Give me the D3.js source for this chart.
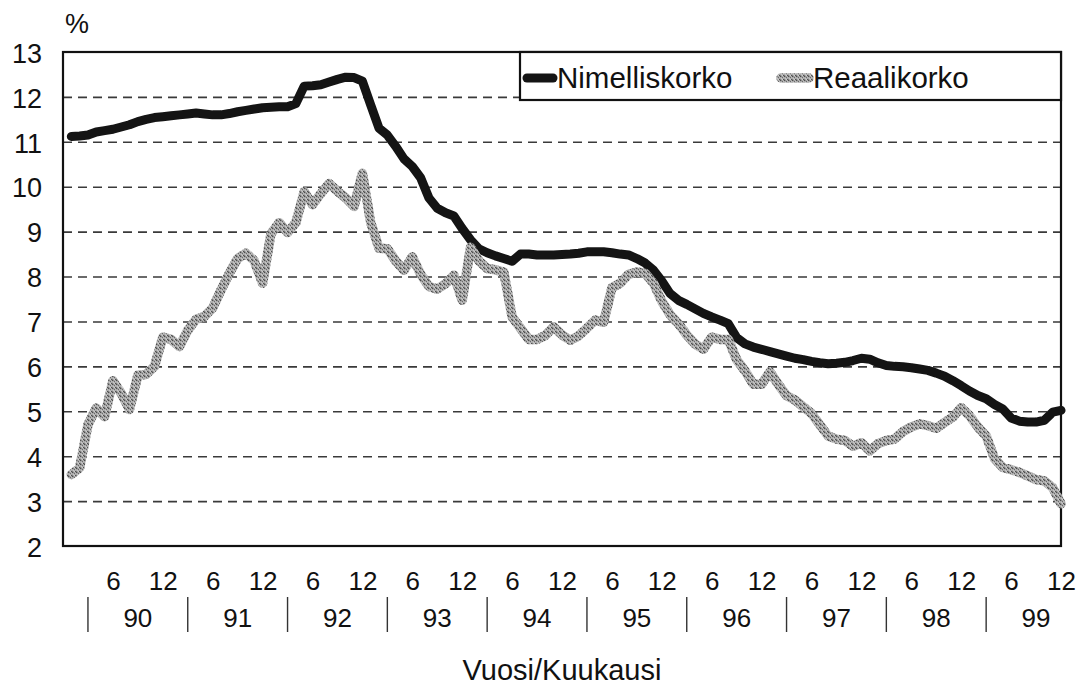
<!DOCTYPE html>
<html>
<head>
<meta charset="utf-8">
<script src="https://cdn.jsdelivr.net/npm/d3@7"></script>
<style>
  html, body { margin: 0; padding: 0; background: #fff; }
  svg { display: block; }
  text { font-family: "Liberation Sans", Arial, Helvetica, sans-serif; fill: #111; }
</style>
</head>
<body>
<svg id="chart" width="1082" height="687"></svg>
<script>
// ---- data (monthly, Jan 1990 .. Dec 1999) ----
const seriesNames = ["Nimelliskorko", "Reaalikorko"];

const nimelliskorko = [
  // 1990
  11.12, 11.13, 11.15, 11.22, 11.25, 11.28, 11.33, 11.38, 11.45, 11.50, 11.54, 11.56,
  // 1991
  11.58, 11.60, 11.62, 11.64, 11.62, 11.60, 11.60, 11.63, 11.67, 11.70, 11.73, 11.76,
  // 1992
  11.77, 11.78, 11.78, 11.85, 12.24, 12.25, 12.27, 12.33, 12.39, 12.44, 12.43, 12.35,
  // 1993
  11.82, 11.30, 11.15, 10.90, 10.62, 10.45, 10.20, 9.75, 9.52, 9.42, 9.35, 9.07,
  // 1994
  8.82, 8.62, 8.53, 8.46, 8.40, 8.34, 8.50, 8.50, 8.48, 8.48, 8.48, 8.49,
  // 1995
  8.50, 8.52, 8.55, 8.55, 8.55, 8.53, 8.50, 8.48, 8.40, 8.30, 8.14, 7.90,
  // 1996
  7.62, 7.47, 7.38, 7.28, 7.18, 7.10, 7.03, 6.95, 6.64, 6.50, 6.43, 6.38,
  // 1997
  6.33, 6.28, 6.23, 6.18, 6.15, 6.11, 6.08, 6.06, 6.07, 6.09, 6.13, 6.18,
  // 1998
  6.16, 6.08, 6.02, 6.00, 5.99, 5.97, 5.94, 5.91, 5.85, 5.78, 5.68, 5.57,
  // 1999
  5.45, 5.35, 5.28, 5.15, 5.05, 4.85, 4.78, 4.76, 4.76, 4.80, 4.98, 5.02
];

const reaalikorko = [
  // 1990
  3.59, 3.74, 4.70, 5.07, 4.88, 5.68, 5.40, 5.04, 5.80, 5.82, 6.00, 6.65,
  // 1991
  6.60, 6.44, 6.80, 7.05, 7.11, 7.30, 7.70, 8.07, 8.40, 8.52, 8.35, 7.85,
  // 1992
  8.95, 9.20, 8.98, 9.20, 9.89, 9.60, 9.85, 10.07, 9.90, 9.75, 9.56, 10.30,
  // 1993
  9.20, 8.63, 8.62, 8.35, 8.14, 8.44, 8.05, 7.78, 7.72, 7.84, 8.03, 7.47,
  // 1994
  8.65, 8.35, 8.18, 8.15, 8.10, 7.10, 6.85, 6.60, 6.60, 6.69, 6.88, 6.70,
  // 1995
  6.58, 6.68, 6.85, 7.03, 6.98, 7.75, 7.85, 8.05, 8.10, 8.07, 7.85, 7.45,
  // 1996
  7.15, 6.95, 6.70, 6.50, 6.38, 6.65, 6.60, 6.60, 6.15, 5.90, 5.60, 5.60,
  // 1997
  5.88, 5.60, 5.35, 5.25, 5.10, 4.95, 4.70, 4.45, 4.38, 4.35, 4.22, 4.30,
  // 1998
  4.12, 4.28, 4.35, 4.38, 4.55, 4.65, 4.72, 4.68, 4.62, 4.75, 4.87, 5.08,
  // 1999
  4.90, 4.65, 4.45, 3.95, 3.75, 3.70, 3.64, 3.56, 3.48, 3.45, 3.30, 2.94
];

const yTicks = [2, 3, 4, 5, 6, 7, 8, 9, 10, 11, 12, 13];
const monthTickLabels = ["6", "12"];
const monthTickOffsets = [5, 11];          // June, December within a year
const yearLabels = ["90", "91", "92", "93", "94", "95", "96", "97", "98", "99"];
const yUnitLabel = "%";
const xTitle = "Vuosi/Kuukausi";

// ---- layout ----
const plot = { left: 63, right: 1061, top: 52, bottom: 546 };
const nMonths = nimelliskorko.length;
const FONT = '"Liberation Sans", Arial, Helvetica, sans-serif';

const svg = d3.select("#chart");

const x = d3.scaleLinear().domain([-1, nMonths - 1]).range([plot.left, plot.right]);
const y = d3.scaleLinear().domain([2, 13]).range([plot.bottom, plot.top]);

// pattern for the speckled grey line
const defs = svg.append("defs");
const pat = defs.append("pattern")
  .attr("id", "speckle").attr("patternUnits", "userSpaceOnUse")
  .attr("width", 4).attr("height", 4);
pat.append("rect").attr("width", 4).attr("height", 4).attr("fill", "#a9a9a9");
[[0,0,"#4e4e4e"],[2,1,"#6a6a6a"],[1,2,"#c6c6c6"],[3,3,"#505050"],[3,1,"#bdbdbd"],[0,3,"#7c7c7c"],[2,3,"#cfcfcf"],[1,0,"#8a8a8a"]]
  .forEach(([px,py,c]) => pat.append("rect").attr("x",px).attr("y",py).attr("width",1).attr("height",1).attr("fill",c));

// ---- grid lines (dashed) ----
const grid = svg.append("g")
  .attr("transform", `translate(${plot.left},0)`)
  .call(d3.axisLeft(y).tickValues(yTicks.filter(v => v > 2 && v < 13))
        .tickSize(-(plot.right - plot.left)).tickFormat(""));
grid.select(".domain").remove();
grid.selectAll(".tick line")
  .attr("stroke", "#3a3a3a").attr("stroke-width", 1.6).attr("stroke-dasharray", "9,6");

// ---- y axis labels ----
const yAxis = svg.append("g")
  .attr("transform", `translate(${plot.left},0)`)
  .call(d3.axisLeft(y).tickValues(yTicks).tickSize(0).tickPadding(21).tickFormat(d3.format("d")));
yAxis.select(".domain").remove();
yAxis.selectAll(".tick text")
  .attr("font-size", 27).attr("dy", "0.38em")
  .style("font-family", FONT).attr("fill", "#111");

// ---- plot border ----
svg.append("rect")
  .attr("x", plot.left).attr("y", plot.top)
  .attr("width", plot.right - plot.left).attr("height", plot.bottom - plot.top)
  .attr("fill", "none").attr("stroke", "#111").attr("stroke-width", 2.2);

// ---- lines ----
const line = d3.line().x((d, i) => x(i)).y(d => y(d));

svg.append("path").datum(nimelliskorko)
  .attr("d", line).attr("fill", "none")
  .attr("stroke", "#141414").attr("stroke-width", 9)
  .attr("stroke-linejoin", "round").attr("stroke-linecap", "round");

svg.append("path").datum(reaalikorko)
  .attr("d", line).attr("fill", "none")
  .attr("stroke", "url(#speckle)").attr("stroke-width", 9.5)
  .attr("stroke-linejoin", "round").attr("stroke-linecap", "round");

// ---- x axis: month labels ----
const monthTicks = [];
yearLabels.forEach((yl, k) => monthTickOffsets.forEach((m, j) => monthTicks.push({ i: k * 12 + m, label: monthTickLabels[j] })));
const xAxis = svg.append("g")
  .attr("transform", `translate(0,${plot.bottom})`)
  .call(d3.axisBottom(x).tickValues(monthTicks.map(d => d.i)).tickSize(0).tickPadding(26)
        .tickFormat((d) => monthTicks.find(t => t.i === d).label));
xAxis.select(".domain").remove();
xAxis.selectAll(".tick text")
  .attr("font-size", 26).attr("dy", "0.71em")
  .style("font-family", FONT).attr("fill", "#111");

// ---- year separators and labels ----
const yearG = svg.append("g");
yearLabels.forEach((yl, k) => {
  const sx = x(k * 12 + 2);
  yearG.append("line")
    .attr("x1", sx).attr("x2", sx).attr("y1", 597).attr("y2", 632)
    .attr("stroke", "#333").attr("stroke-width", 1.4);
  yearG.append("text")
    .attr("x", x(k * 12 + 8)).attr("y", 627)
    .attr("text-anchor", "middle").attr("font-size", 26)
    .text(yl);
});

// ---- unit label and axis title ----
svg.append("text").attr("x", 65).attr("y", 33).attr("font-size", 27).text(yUnitLabel);
svg.append("text").attr("x", (plot.left + plot.right) / 2).attr("y", 680)
  .attr("text-anchor", "middle").attr("font-size", 29).text(xTitle);

// ---- legend ----
const lg = svg.append("g");
lg.append("rect")
  .attr("x", 520).attr("y", plot.top).attr("width", plot.right - 520).attr("height", 48)
  .attr("fill", "#fff").attr("stroke", "#111").attr("stroke-width", 2.2);
lg.append("line").attr("x1", 527).attr("x2", 553).attr("y1", 78).attr("y2", 78)
  .attr("stroke", "#141414").attr("stroke-width", 9).attr("stroke-linecap", "round");
lg.append("text").attr("x", 557).attr("y", 88).attr("font-size", 29.5).text(seriesNames[0]);
lg.append("line").attr("x1", 781).attr("x2", 809).attr("y1", 78).attr("y2", 78)
  .attr("stroke", "url(#speckle)").attr("stroke-width", 9.5).attr("stroke-linecap", "round");
lg.append("text").attr("x", 813).attr("y", 88).attr("font-size", 29.5).text(seriesNames[1]);
</script>
</body>
</html>
